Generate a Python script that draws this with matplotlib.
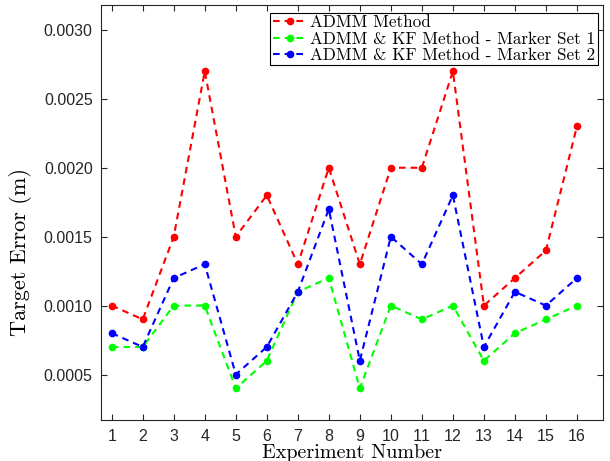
import numpy as np
import matplotlib
matplotlib.use('Agg')
import matplotlib.pyplot as plt

experiments = np.arange(1, 17)
admm = [0.0010, 0.0009, 0.0015, 0.0027, 0.0015, 0.0018, 0.0013, 0.0020,
        0.0013, 0.0020, 0.0020, 0.0027, 0.0010, 0.0012, 0.0014, 0.0023]
kf_set1 = [0.0007, 0.0007, 0.0010, 0.0010, 0.0004, 0.0006, 0.0011, 0.0012,
           0.0004, 0.0010, 0.0009, 0.0010, 0.0006, 0.0008, 0.0009, 0.0010]
kf_set2 = [0.0008, 0.0007, 0.0012, 0.0013, 0.0005, 0.0007, 0.0011, 0.0017,
           0.0006, 0.0015, 0.0013, 0.0018, 0.0007, 0.0011, 0.0010, 0.0012]
labels = ['ADMM Method', 'ADMM & KF Method - Marker Set 1', 'ADMM & KF Method - Marker Set 2']
yticks = [0.0005, 0.0010, 0.0015, 0.0020, 0.0025, 0.0030]

serif = {'family': 'cmr10'}
plt.rcParams['axes.formatter.use_mathtext'] = True

fig = plt.figure(figsize=(6.1, 4.61), dpi=100)
ax = fig.add_axes([0.1656, 0.0889, 0.8229, 0.9001])

for vals, col, lab in zip([admm, kf_set1, kf_set2], ['#ff0000', '#00ff00', '#0000ff'], labels):
    ax.plot(experiments, vals, '--', color=col, marker='o', markersize=4.5,
            linewidth=1.5, dashes=(3.2, 2.4), label=lab)

ax.set_xlim(0.655, 16.84)
ax.set_ylim(0.00017, 0.00318)
ax.set_xticks(experiments)
ax.set_yticks(yticks)
ax.set_yticklabels(['%.4f' % t for t in yticks])

for lbl in ax.get_xticklabels() + ax.get_yticklabels():
    lbl.set_family('Liberation Sans')
    lbl.set_fontsize(11.5)

ax.tick_params(direction='in', top=True, right=True, length=4, color='#262626', labelcolor='#262626', pad=6)
ax.tick_params(axis='x', pad=6)
for s in ax.spines.values():
    s.set_color('#262626')
    s.set_linewidth(0.8)

ax.set_xlabel('Experiment Number', fontdict=serif, fontsize=14.5, labelpad=0)
ax.set_ylabel('Target Error (m)', fontdict=serif, fontsize=16)
ax.yaxis.set_label_coords(-0.138, 0.405)

leg = ax.legend(loc='upper right', bbox_to_anchor=(0.99, 0.982), prop={'family': 'cmr10', 'size': 12.3},
                fancybox=False, edgecolor='black', framealpha=1, handlelength=2.0,
                handletextpad=0.2, borderpad=0.15, labelspacing=0.05, borderaxespad=0)
leg.get_frame().set_linewidth(0.8)

fig.savefig('out.png', dpi=100)
